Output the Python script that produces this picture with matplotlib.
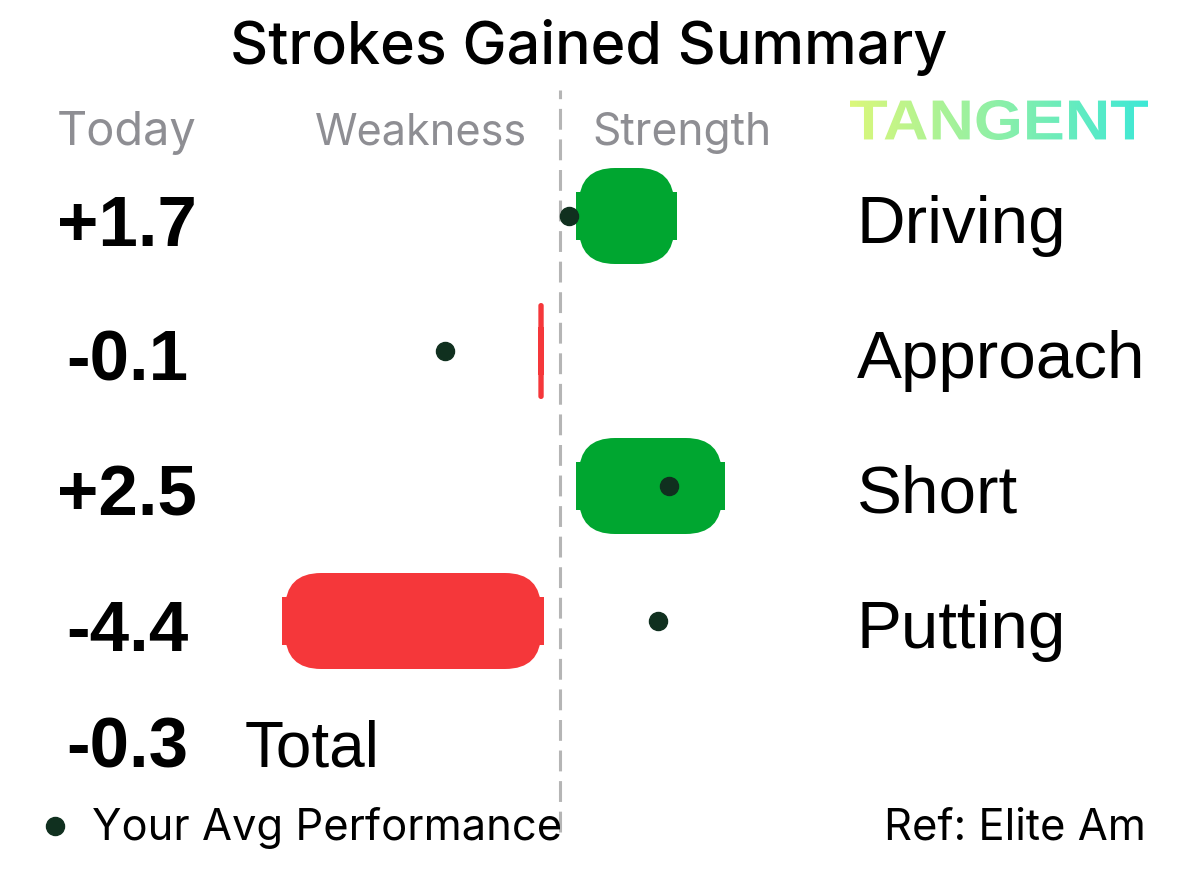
import matplotlib
matplotlib.use("Agg")
import numpy as np
import matplotlib.pyplot as plt
from matplotlib.patches import FancyBboxPatch, Rectangle, PathPatch
from matplotlib.textpath import TextPath
from matplotlib.font_manager import FontProperties
from matplotlib.transforms import Affine2D

# data
categories = ["Driving", "Approach", "Short", "Putting"]
today = [1.7, -0.1, 2.5, -4.4]
avg_perf = [0.15, -1.94, 1.83, 1.65]
total = -0.3
reference = "Elite Am"

GREEN = "#00a630"
RED = "#f5373a"
DOT = "#10301f"
GREY = "#8e8e93"
LINE = "#b5b5b5"

# layout (pixels)
W, H = 1179, 876
PX_UNIT = 59.5      # pixels per stroke
ZERO_PX = 560
ROW_PX = 135
ROW0_PX = 216

fig = plt.figure(figsize=(W / 100, H / 100), dpi=100)
ax = fig.add_axes([0, 0, 1, 1])
ax.set_xlim(-ZERO_PX / PX_UNIT, (W - ZERO_PX) / PX_UNIT)
ax.set_ylim((H - ROW0_PX) / ROW_PX, -ROW0_PX / ROW_PX)
ax.axis("off")


def fx(px):
    return (px - ZERO_PX) / PX_UNIT


def fy(py):
    return (py - ROW0_PX) / ROW_PX


# zero line
plt.rcParams["lines.scale_dashes"] = False
ax.axvline(0, ymin=1 - 832 / H, ymax=1 - 90 / H, color=LINE, lw=2.2,
           dashes=(15, 7), zorder=1)

# bars: rounded pill plus a flat core so the ends look squared off
gap = 16 / PX_UNIT
bar_h = 96 / ROW_PX
core_h = 48 / ROW_PX
aspect = PX_UNIT / ROW_PX
for i, v in enumerate(today):
    color = GREEN if v > 0 else RED
    w = abs(v)
    x0 = gap if v > 0 else -gap - w
    inset = min(3 / PX_UNIT, w * 0.05)
    r = min(36 / PX_UNIT, (w - 2 * inset) / 2)
    pill = FancyBboxPatch((x0 + inset, i - bar_h / 2), w - 2 * inset, bar_h,
                          boxstyle=f"round,pad=0,rounding_size={r}",
                          mutation_aspect=aspect, fc=color, ec="none", zorder=2)
    ax.add_patch(pill)
    ax.add_patch(Rectangle((x0, i - core_h / 2), w, core_h, fc=color,
                           ec="none", zorder=2))

# average performance dots
ax.plot(avg_perf, range(len(avg_perf)), "o", color=DOT, ms=13, zorder=5)

fig.canvas.draw()
renderer = fig.canvas.get_renderer()


def fit(t, width):
    bb = t.get_window_extent(renderer)
    t.set_fontsize(t.get_fontsize() * width / bb.width)
    return t


HEL = "Liberation Sans"
SANS = "Inter"

# title
fit(fig.text(589 / W, 1 - 64 / H, "Strokes Gained Summary", ha="center",
             va="baseline", family=SANS, weight="medium", fontsize=30), 718)

# header
fit(ax.text(fx(57), fy(145), "Today", ha="left", va="baseline", color=GREY,
            family=SANS, fontsize=30), 140)
fit(ax.text(fx(527), fy(145), "Weakness", ha="right", va="baseline",
            color=GREY, family=SANS, fontsize=30), 212)
fit(ax.text(fx(592), fy(145), "Strength", ha="left", va="baseline",
            color=GREY, family=SANS, fontsize=30), 180)

# gradient logo
fp = FontProperties(family=HEL, weight="bold")
tp = TextPath((0, 0), "TANGENT", size=100, prop=fp)
ext = tp.get_extents()
lx0, lx1, ltop, lbot = 850, 1148, 100, 140
trans = (Affine2D().translate(-ext.x0, -ext.y0)
         .scale((lx1 - lx0) / ext.width, (lbot - ltop) / ext.height)
         .translate(lx0, H - lbot))
logo_ax = fig.add_axes([lx0 / W, 1 - lbot / H, (lx1 - lx0) / W,
                        (lbot - ltop) / H])
logo_ax.axis("off")
c0 = np.array([0.86, 0.97, 0.48])
c1 = np.array([0.24, 0.91, 0.84])
tgrad = np.linspace(0, 1, 256)[None, :, None]
grad = c0 + (c1 - c0) * tgrad
im = logo_ax.imshow(grad, aspect="auto", extent=[0, 1, 0, 1])
im.set_clip_path(PathPatch(tp, transform=trans))

# row values and labels
for i, (cat, v) in enumerate(zip(categories, today)):
    ax.text(fx(127), i + 30 / ROW_PX, f"{v:+.1f}", ha="center",
            va="baseline", family=HEL, weight="bold", fontsize=51)
    ax.text(fx(857), i + 27 / ROW_PX, cat, ha="left", va="baseline",
            family=HEL, fontsize=48.5)

ax.text(fx(127), fy(768), f"{total:+.1f}", ha="center", va="baseline",
        family=HEL, weight="bold", fontsize=51)
ax.text(fx(245), fy(767), "Total", ha="left", va="baseline", family=HEL,
        fontsize=46)

# footer
ax.plot([fx(55)], [fy(826)], "o", color=DOT, ms=13)
fit(ax.text(fx(92), fy(840), "Your Avg Performance", ha="left",
            va="baseline", family=SANS, fontsize=28), 470)
fit(ax.text(fx(1146), fy(840), f"Ref: {reference}", ha="right",
            va="baseline", family=SANS, fontsize=28), 262)

fig.savefig("out.png", dpi=100, facecolor="white")
